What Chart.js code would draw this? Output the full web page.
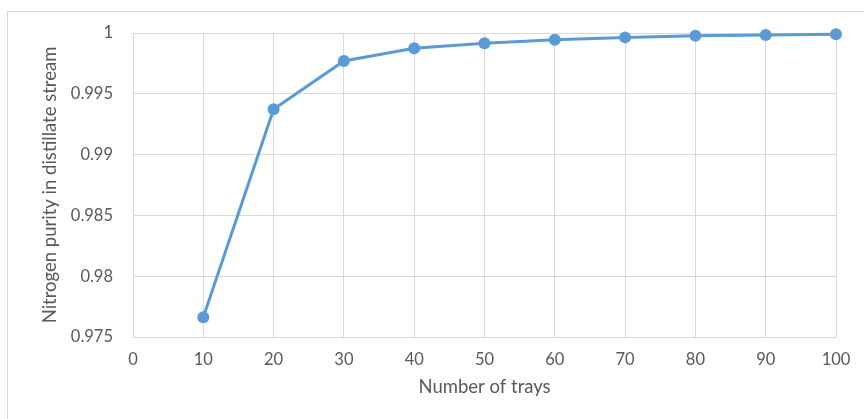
<!DOCTYPE html>
<html>
<head>
<meta charset="utf-8">
<script src="https://cdn.jsdelivr.net/npm/chart.js@4/dist/chart.umd.min.js"></script>
<style>
  html, body { margin: 0; padding: 0; background: #fff; overflow: hidden; }
  #frame { position: absolute; left: 7px; top: 11px; width: 900px; height: 500px; border: 1px solid #d9d9d9; box-sizing: border-box; }
  #wrap { position: absolute; left: 0; top: 0; width: 864px; height: 419px; }
</style>
</head>
<body>
<div id="frame"></div>
<div id="wrap"><canvas id="c" width="864" height="419"></canvas></div>
<script>
const trays = [10, 20, 30, 40, 50, 60, 70, 80, 90, 100];
const purity = [0.97662, 0.99373, 0.99770, 0.99874, 0.99915, 0.99945, 0.99964, 0.99977, 0.99984, 0.99990];
const xTicks = [0, 10, 20, 30, 40, 50, 60, 70, 80, 90, 100];
const yTicks = [0.975, 0.98, 0.985, 0.99, 0.995, 1];
const xTitle = 'Number of trays';
const yTitle = 'Nitrogen purity in distillate stream';

const fontFamily = 'Lato, "Open Sans", sans-serif';
const tickColor = '#595959';
const gridColor = '#d9d9d9';

new Chart(document.getElementById('c'), {
  type: 'line',
  data: {
    datasets: [{
      data: trays.map((t, i) => ({ x: t, y: purity[i] })),
      borderColor: '#5b9bd5',
      backgroundColor: '#5b9bd5',
      borderWidth: 3,
      pointRadius: 6,
      pointBorderWidth: 0,
      tension: 0,
      fill: false,
      clip: false
    }]
  },
  options: {
    responsive: false,
    animation: false,
    devicePixelRatio: 1,
    layout: { padding: { left: 0, top: 33, right: 28, bottom: 0 } },
    plugins: { legend: { display: false }, tooltip: { enabled: false } },
    scales: {
      x: {
        type: 'linear',
        min: 0, max: 100,
        afterBuildTicks: s => { s.ticks = xTicks.map(v => ({ value: v })); },
        afterFit: s => { s.height = 82; },
        grid: { color: gridColor, lineWidth: 1, drawTicks: false },
        border: { color: gridColor, width: 1 },
        ticks: { color: tickColor, font: { family: fontFamily, size: 16.5 }, padding: 13, maxRotation: 0 },
        title: { display: true, text: xTitle, color: tickColor, font: { family: fontFamily, size: 18.5 }, padding: { top: 0, bottom: 21 } }
      },
      y: {
        type: 'linear',
        min: 0.975, max: 1,
        afterBuildTicks: s => { s.ticks = yTicks.map(v => ({ value: v })); },
        afterFit: s => { s.width = 133; },
        grid: { color: gridColor, lineWidth: 1, drawTicks: false },
        border: { color: gridColor, width: 1 },
        ticks: { color: tickColor, font: { family: fontFamily, size: 16.5 }, padding: 20,
          callback: v => String(+v.toFixed(3)) },
        title: { display: true, text: yTitle, color: tickColor, font: { family: fontFamily, size: 18.5 }, padding: { top: 39, bottom: 0 } }
      }
    }
  }
});
</script>
</body>
</html>
